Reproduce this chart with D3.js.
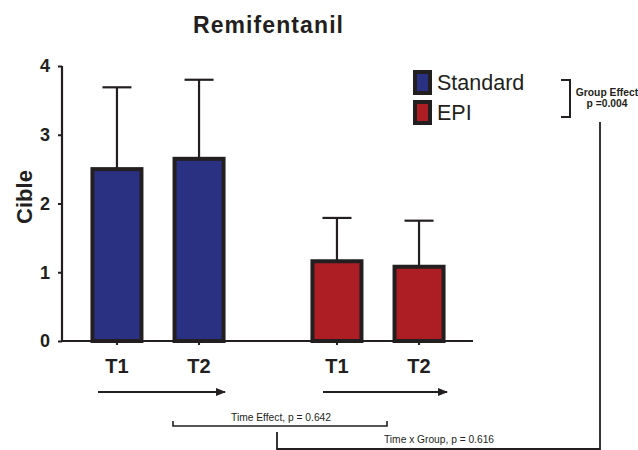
<!DOCTYPE html>
<html><head><meta charset="utf-8">
<script src="https://cdn.jsdelivr.net/npm/d3@7"></script>
<style>body{margin:0;background:#fff}svg{display:block}text{font-family:"Liberation Sans",Arial,sans-serif;fill:#231f20}</style>
</head><body><svg id="c" width="638" height="450"></svg>
<script>
const groups = ["Standard", "EPI"];
const times = ["T1", "T2"];
const standardMeans = [2.50, 2.65];
const standardSD = [1.19, 1.15];
const epiMeans = [1.16, 1.08];
const epiSD = [0.63, 0.67];
const yTicks = [0, 1, 2, 3, 4];
const colors = ["#2b3182", "#ac1e24"];
const title = "Remifentanil";
const yLabel = "Cible";
const groupEffect = ["Group Effect", "p =0.004"];
const timeEffect = "Time Effect, p = 0.642";
const interaction = "Time x Group, p = 0.616";

const data = [];
groups.forEach((g, gi) => times.forEach((t, ti) => {
  data.push({group: g, time: t, gi, mean: gi === 0 ? standardMeans[ti] : epiMeans[ti], sd: gi === 0 ? standardSD[ti] : epiSD[ti]});
}));

const svg = d3.select("#c");
const dark = "#231f20";
const y = d3.scaleLinear().domain([0, 4]).range([341, 66]);
const x0 = d3.scaleBand().domain(groups).range([48, 488]).padding(0);
const x1 = d3.scalePoint().domain(times).range([0, x0.bandwidth()]).padding(0.84);
const cx = d => x0(d.group) + x1(d.time);
const barW = 49;

// title
svg.append("text").attr("x", 268).attr("y", 33).attr("text-anchor", "middle")
  .style("font-size", "23px").style("font-weight", "bold").attr("textLength", 150).text(title);

// error bars
const eb = svg.append("g").attr("stroke", dark).attr("stroke-width", 2.2);
data.forEach(d => {
  const c = cx(d);
  eb.append("line").attr("x1", c).attr("x2", c).attr("y1", y(d.mean)).attr("y2", y(d.mean + d.sd));
  eb.append("line").attr("x1", c - 14.5).attr("x2", c + 14.5).attr("y1", y(d.mean + d.sd)).attr("y2", y(d.mean + d.sd));
});

// bars
svg.append("g").selectAll("rect").data(data).join("rect")
  .attr("x", d => cx(d) - barW / 2).attr("width", barW)
  .attr("y", d => y(d.mean)).attr("height", d => y(0) - y(d.mean))
  .attr("fill", d => colors[d.gi]).attr("stroke", dark).attr("stroke-width", 4);

// y axis
const yAxis = svg.append("g").attr("transform", "translate(62,0)")
  .call(d3.axisLeft(y).tickValues(yTicks).tickSize(4).tickPadding(8).tickFormat(d3.format("d")));
yAxis.select(".domain").attr("stroke", dark).attr("stroke-width", 2.2).attr("d", `M0,${y(4)}V${y(0)}`);
yAxis.selectAll(".tick line").attr("stroke", dark).attr("stroke-width", 2);
yAxis.selectAll(".tick text").style("font-size", "18px").style("font-weight", "bold").attr("fill", dark);

// x axis
const xAxisG = svg.append("g").attr("transform", `translate(0,${y(0)})`);
xAxisG.append("line").attr("x1", 62).attr("x2", 473).attr("y1", 0).attr("y2", 0).attr("stroke", dark).attr("stroke-width", 2.2);
data.forEach(d => {
  xAxisG.append("line").attr("x1", cx(d)).attr("x2", cx(d)).attr("y1", 0).attr("y2", 4).attr("stroke", dark).attr("stroke-width", 2);
  xAxisG.append("text").attr("x", cx(d)).attr("y", 32).attr("text-anchor", "middle")
    .style("font-size", "20px").style("font-weight", "bold").text(d.time);
});

// y label
svg.append("text").attr("transform", `translate(32,197) rotate(-90)`).attr("text-anchor", "middle")
  .style("font-size", "22px").style("font-weight", "bold").text(yLabel);

// arrows
const defs = svg.append("defs");
defs.append("marker").attr("id", "ah").attr("viewBox", "0 0 10 8").attr("refX", 9).attr("refY", 4)
  .attr("markerWidth", 10).attr("markerHeight", 8).attr("markerUnits", "userSpaceOnUse").attr("orient", "auto")
  .append("path").attr("d", "M0,0L10,4L0,8Z").attr("fill", dark);
[[98, 225], [323, 447]].forEach(([a, b]) => {
  svg.append("line").attr("x1", a).attr("x2", b).attr("y1", 392).attr("y2", 392)
    .attr("stroke", dark).attr("stroke-width", 2).attr("marker-end", "url(#ah)");
});

// legend
groups.forEach((g, i) => {
  const ly = 72 + i * 30;
  svg.append("rect").attr("x", 415).attr("y", ly).attr("width", 15).attr("height", 21)
    .attr("fill", colors[i]).attr("stroke", dark).attr("stroke-width", 4);
  svg.append("text").attr("x", 437).attr("y", ly + 18).style("font-size", "21.5px").text(g);
});

// group effect bracket
svg.append("path").attr("d", "M561,80H570V117H561").attr("fill", "none").attr("stroke", dark).attr("stroke-width", 2);
svg.append("text").attr("x", 607).attr("y", 96).attr("text-anchor", "middle")
  .style("font-size", "10.3px").style("font-weight", "bold").text(groupEffect[0]);
svg.append("text").attr("x", 607).attr("y", 107).attr("text-anchor", "middle")
  .style("font-size", "10.3px").style("font-weight", "bold").text(groupEffect[1]);

// time effect bracket
svg.append("path").attr("d", "M173,421V426H387V421").attr("fill", "none").attr("stroke", dark).attr("stroke-width", 1.6);
svg.append("text").attr("x", 281).attr("y", 421).attr("text-anchor", "middle")
  .style("font-size", "10.5px").attr("textLength", 100).attr("lengthAdjust", "spacingAndGlyphs").text(timeEffect);

// interaction line
svg.append("path").attr("d", "M277,432V449H600V122").attr("fill", "none").attr("stroke", dark).attr("stroke-width", 1.8);
svg.append("text").attr("x", 439).attr("y", 443).attr("text-anchor", "middle")
  .style("font-size", "10.5px").attr("textLength", 110).attr("lengthAdjust", "spacingAndGlyphs").text(interaction);
</script></body></html>
